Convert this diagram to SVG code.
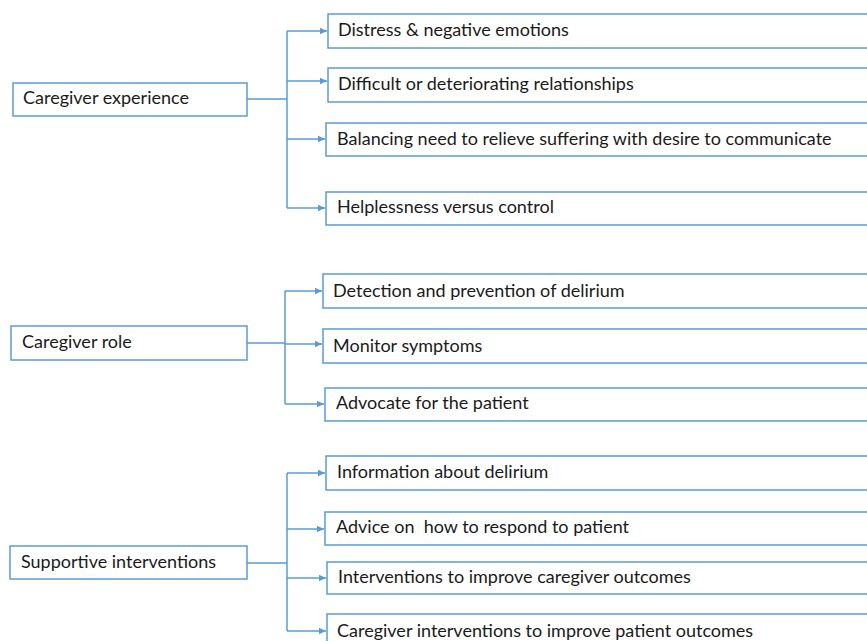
<svg xmlns="http://www.w3.org/2000/svg" width="867" height="641" viewBox="0 0 867 641">
<defs>
<style>
.box{fill:#fff;stroke:#5b9bd5;stroke-width:1.5}
.c{fill:none;stroke:#5b9bd5;stroke-width:1.5}
text{font-family:Lato,"Open Sans","Liberation Sans",sans-serif;font-size:18px;fill:#1a1a1a;white-space:pre}
</style>
<marker id="ah" markerWidth="8" markerHeight="8" refX="7" refY="4" orient="auto" markerUnits="userSpaceOnUse">
<path d="M0,0.8 L7,4 L0,7.2 Z" fill="#5b9bd5"/>
</marker>
</defs>
<rect width="867" height="641" fill="#fff"/>
<g id="connectors">
<path class="c" d="M247,99 H287 M287,31 V208"/>
<path class="c" marker-end="url(#ah)" d="M287,31 H327"/>
<path class="c" marker-end="url(#ah)" d="M287,81 H327"/>
<path class="c" marker-end="url(#ah)" d="M287,139 H325"/>
<path class="c" marker-end="url(#ah)" d="M287,208 H325"/>
<path class="c" d="M247,343 H285 M285,291 V404"/>
<path class="c" marker-end="url(#ah)" d="M285,291 H322"/>
<path class="c" marker-end="url(#ah)" d="M285,344 H322"/>
<path class="c" marker-end="url(#ah)" d="M285,404 H324"/>
<path class="c" d="M247,563 H287 M287,473 V631"/>
<path class="c" marker-end="url(#ah)" d="M287,473 H325"/>
<path class="c" marker-end="url(#ah)" d="M287,529 H324"/>
<path class="c" marker-end="url(#ah)" d="M287,578 H326"/>
<path class="c" marker-end="url(#ah)" d="M287,631 H326"/>
</g>
<g id="n-exp"><rect class="box" x="13" y="83" width="234" height="33"/><text x="23" y="104">Caregiver experience</text></g>
<g id="n-exp1"><rect class="box" x="328" y="14" width="560" height="34"/><text x="338" y="36">Distress &amp; negative emotions</text></g>
<g id="n-exp2"><rect class="box" x="328" y="68" width="560" height="34"/><text x="338" y="90">Difficult or deteriorating relationships</text></g>
<g id="n-exp3"><rect class="box" x="326" y="123" width="560" height="33"/><text x="337" y="145">Balancing need to relieve suffering with desire to communicate</text></g>
<g id="n-exp4"><rect class="box" x="326" y="192" width="560" height="33"/><text x="337" y="213">Helplessness versus control</text></g>
<g id="n-role"><rect class="box" x="11" y="326" width="236" height="34"/><text x="22" y="348">Caregiver role</text></g>
<g id="n-role1"><rect class="box" x="323" y="274" width="560" height="34"/><text x="333" y="297">Detection and prevention of delirium</text></g>
<g id="n-role2"><rect class="box" x="323" y="329" width="560" height="34"/><text x="333" y="352">Monitor symptoms</text></g>
<g id="n-role3"><rect class="box" x="325" y="388" width="560" height="33"/><text x="336" y="409">Advocate for the patient</text></g>
<g id="n-sup"><rect class="box" x="10" y="546" width="237" height="33"/><text x="21" y="568">Supportive interventions</text></g>
<g id="n-sup1"><rect class="box" x="326" y="456" width="560" height="34"/><text x="337" y="478">Information about delirium</text></g>
<g id="n-sup2"><rect class="box" x="325" y="512" width="560" height="33"/><text x="336" y="533" xml:space="preserve">Advice on  how to respond to patient</text></g>
<g id="n-sup3"><rect class="box" x="327" y="562" width="560" height="32"/><text x="338" y="583">Interventions to improve caregiver outcomes</text></g>
<g id="n-sup4"><rect class="box" x="327" y="614" width="560" height="40"/><text x="337" y="637">Caregiver interventions to improve patient outcomes</text></g>
</svg>
